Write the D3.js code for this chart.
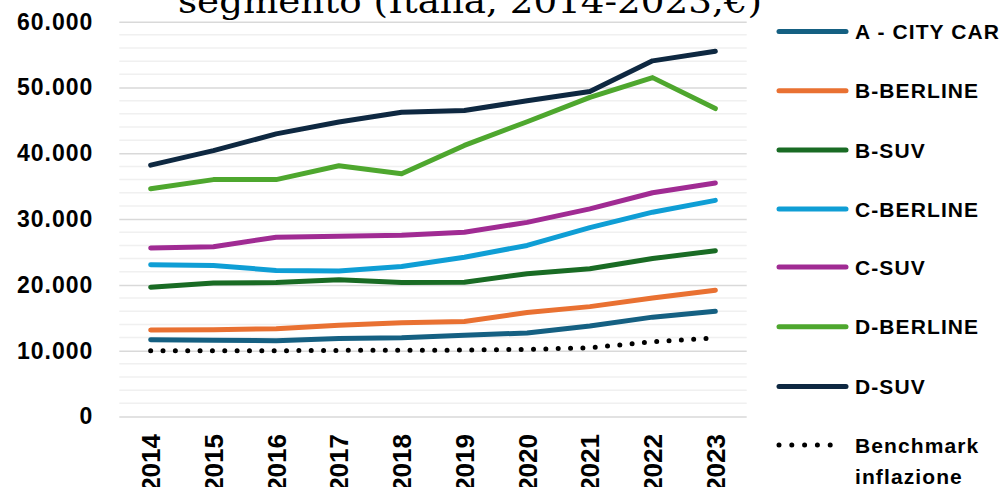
<!DOCTYPE html>
<html>
<head>
<meta charset="utf-8">
<script src="https://cdn.jsdelivr.net/npm/d3@7"></script>
<style>
  html, body { margin: 0; padding: 0; background: #fff; overflow: hidden; }
  svg { display: block; }
</style>
</head>
<body>
<svg id="chart" width="1004" height="487"></svg>
<script>
// Prezzo medio per segmento, Italia 2014-2023 (€)
const years = ["2014","2015","2016","2017","2018","2019","2020","2021","2022","2023"];
const yTicks = [0, 10000, 20000, 30000, 40000, 50000, 60000];

const cityCar   = [11650, 11600, 11500, 11850, 11950, 12350, 12700, 13750, 15100, 16000];
const bBerline  = [13150, 13200, 13350, 13850, 14250, 14450, 15800, 16700, 18000, 19200];
const bSuv      = [19650, 20300, 20350, 20800, 20350, 20400, 21700, 22450, 24000, 25200];
const cBerline  = [23050, 22950, 22200, 22100, 22800, 24200, 26000, 28700, 31050, 32850];
const cSuv      = [25600, 25800, 27250, 27400, 27550, 28000, 29500, 31550, 34000, 35500];
const dBerline  = [34600, 36000, 36000, 38100, 36900, 41200, 44800, 48500, 51500, 46800];
const dSuv      = [38200, 40400, 42950, 44750, 46250, 46500, 48000, 49400, 54050, 55500];
const inflation = [10000, 10000, 10000, 10050, 10050, 10100, 10200, 10450, 11350, 11950];

const seriesNames = ["A - CITY CAR", "B-BERLINE", "B-SUV", "C-BERLINE", "C-SUV", "D-BERLINE", "D-SUV"];
const seriesValues = [cityCar, bBerline, bSuv, cBerline, cSuv, dBerline, dSuv];
const seriesColors = ["#156082", "#E97132", "#196B24", "#0F9ED5", "#A02B93", "#4EA72E", "#0E2841"];
const benchmarkLabel = ["Benchmark", "inflazione"];
const titleText = "segmento (Italia, 2014-2023,€)";

const svg = d3.select("#chart");
const fontSans = "'Liberation Sans', Arial, sans-serif";

const x = d3.scalePoint().domain(years).range([119.3, 746.7]).padding(0.5);
const y = d3.scaleLinear().domain([0, 60000]).range([416.5, 21.7]);

// minor gridlines every 2.000
const minor = d3.range(0, 60001, 2000).filter(v => v % 10000 !== 0);
svg.append("g").selectAll("line").data(minor).join("line")
  .attr("x1", 119.3).attr("x2", 746.7)
  .attr("y1", d => y(d)).attr("y2", d => y(d))
  .attr("stroke", "#f0f0f0").attr("stroke-width", 1.5);

// y axis with major gridlines
const fmt = v => v === 0 ? "0" : d3.format(",")(v).replace(/,/g, ".");
const yAxis = svg.append("g").attr("transform", "translate(119.3,0)")
  .call(d3.axisLeft(y).tickValues(yTicks).tickSize(-(746.7 - 119.3)).tickPadding(26).tickFormat(fmt));
yAxis.select(".domain").remove();
yAxis.selectAll(".tick line").attr("stroke", "#d9d9d9").attr("stroke-width", 1.5);
yAxis.selectAll(".tick text")
  .attr("font-family", fontSans).attr("font-weight", "bold").attr("font-size", 23)
  .attr("fill", "#000").attr("letter-spacing", 1);

// x axis: rotated year labels
const xAxis = svg.append("g").attr("transform", "translate(0,416.5)")
  .call(d3.axisBottom(x).tickSize(0).tickPadding(0));
xAxis.select(".domain").remove();
xAxis.selectAll(".tick text")
  .attr("font-family", fontSans).attr("font-weight", "bold").attr("font-size", 26)
  .attr("fill", "#000")
  .attr("text-anchor", "end").attr("dy", "0.35em")
  .attr("transform", "translate(0,17.5) rotate(-90)")
  .attr("x", 0).attr("y", 0);

// series lines
const line = d3.line().x((d, i) => x(years[i])).y(d => y(d)).curve(d3.curveLinear);
const plot = svg.append("g");
plot.append("path").datum(inflation)
  .attr("d", line).attr("fill", "none").attr("stroke", "#000")
  .attr("stroke-width", 5).attr("stroke-linecap", "round")
  .attr("stroke-dasharray", "0 12.35");
seriesValues.forEach((vals, k) => {
  plot.append("path").datum(vals)
    .attr("d", line).attr("fill", "none").attr("stroke", seriesColors[k])
    .attr("stroke-width", 5).attr("stroke-linecap", "round").attr("stroke-linejoin", "round");
});

// title (second line, partially outside the top edge)
svg.append("text").attr("x", 178).attr("y", 13)
  .attr("font-family", "'DejaVu Serif', 'Liberation Serif', serif")
  .attr("font-size", 34).attr("fill", "#000")
  .attr("textLength", 584).attr("lengthAdjust", "spacingAndGlyphs")
  .text(titleText);

// legend
const legY = [31.5, 90.7, 150, 209, 267, 326.7, 386.5];
const leg = svg.append("g");
seriesNames.forEach((name, k) => {
  leg.append("line").attr("x1", 779).attr("x2", 846).attr("y1", legY[k]).attr("y2", legY[k])
    .attr("stroke", seriesColors[k]).attr("stroke-width", 5).attr("stroke-linecap", "round");
  leg.append("text").attr("x", 855).attr("y", legY[k]).attr("dy", "0.36em")
    .attr("font-family", fontSans).attr("font-weight", "bold").attr("font-size", 21)
    .attr("letter-spacing", 1.1).attr("fill", "#000").text(name);
});
leg.append("line").attr("x1", 779).attr("x2", 843).attr("y1", 445).attr("y2", 445)
  .attr("stroke", "#000").attr("stroke-width", 5).attr("stroke-linecap", "round")
  .attr("stroke-dasharray", "0 12.8");
benchmarkLabel.forEach((t, i) => {
  leg.append("text").attr("x", 855).attr("y", 445 + i * 31).attr("dy", "0.36em")
    .attr("font-family", fontSans).attr("font-weight", "bold").attr("font-size", 21)
    .attr("letter-spacing", 1.1).attr("fill", "#000").text(t);
});
</script>
</body>
</html>
